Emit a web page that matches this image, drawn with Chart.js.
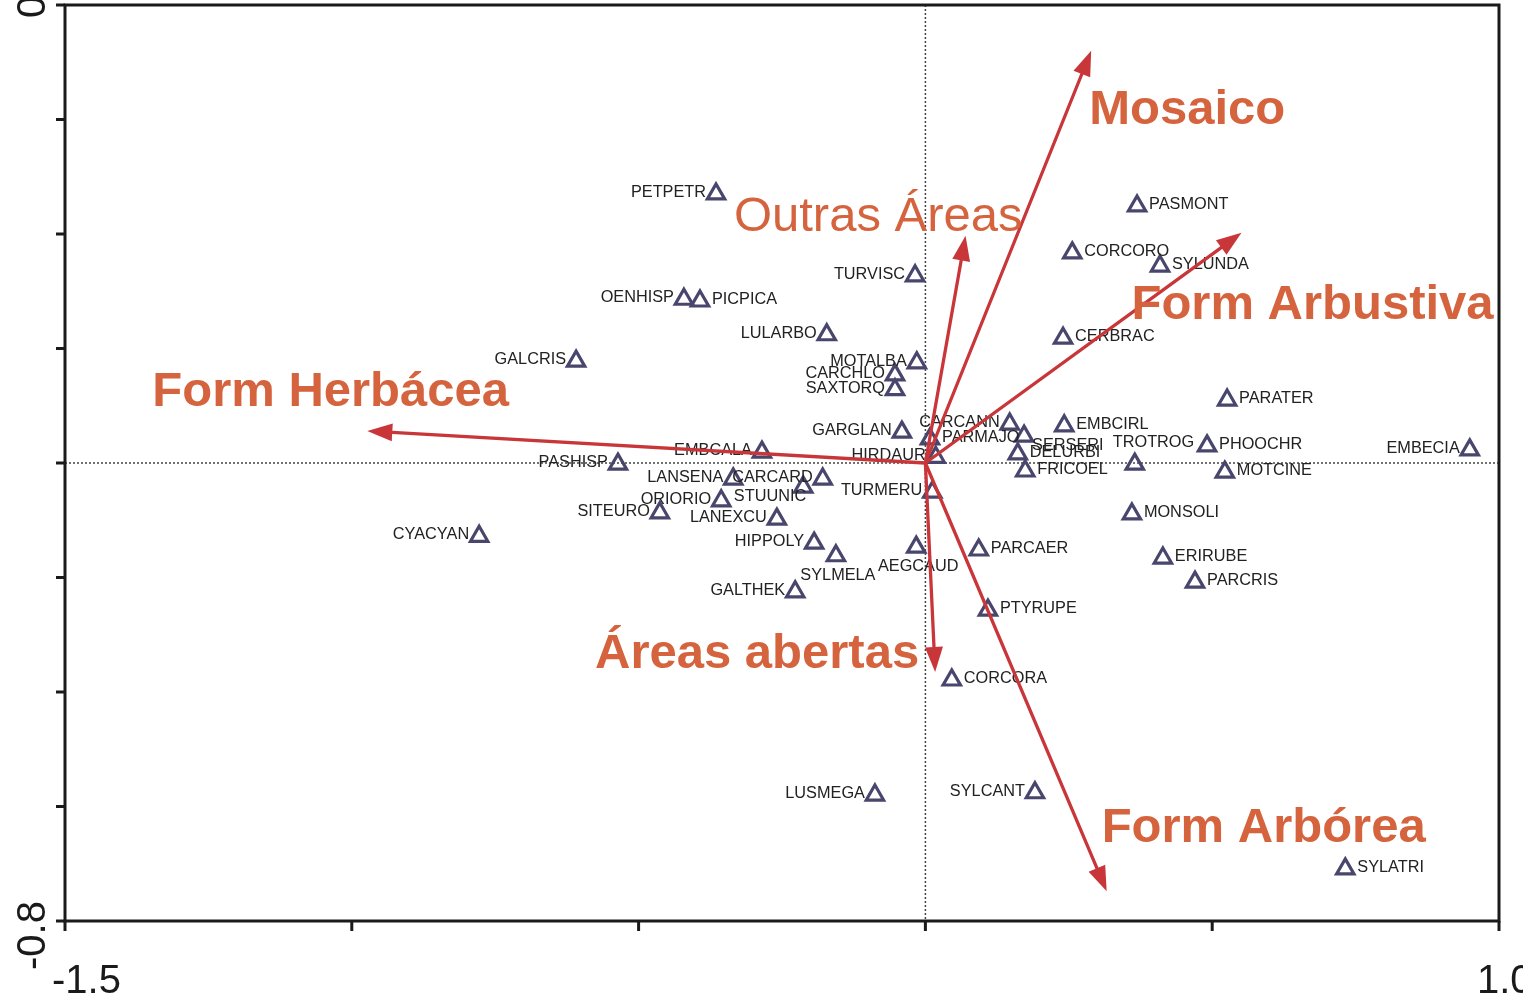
<!DOCTYPE html>
<html><head><meta charset="utf-8">
<script src="https://cdn.jsdelivr.net/npm/chart.js@4.4.0/dist/chart.umd.min.js"></script>
<style>html,body{margin:0;padding:0;background:#fff;}#wrap{width:1523px;height:1000px;position:relative;}</style>
</head><body><div id="wrap"><canvas id="c"></canvas></div>
<script>
// ---- data ----
const speciesNames = ['PETPETR','PASMONT','CORCORO','SYLUNDA','TURVISC','OENHISP','PICPICA','LULARBO','CERBRAC','GALCRIS',
  'MOTALBA','CARCHLO','SAXTORQ','PARATER','CARCANN','EMBCIRL','GARGLAN','SERSERI','PARMAJO','PHOOCHR',
  'EMBECIA','EMBCALA','DELURBI','HIRDAUR','TROTROG','PASHISP','FRICOEL','MOTCINE','CARCARD','LANSENA',
  'STUUNIC','TURMERU','ORIORIO','SITEURO','MONSOLI','LANEXCU','CYACYAN','HIPPOLY','AEGCAUD','PARCAER',
  'SYLMELA','ERIRUBE','PARCRIS','GALTHEK','PTYRUPE','CORCORA','LUSMEGA','SYLCANT','SYLATRI'];
const speciesX = [-0.365,0.369,0.256,0.409,-0.018,-0.421,-0.393,-0.172,0.240,-0.609,
  -0.015,-0.053,-0.053,0.526,0.147,0.242,-0.041,0.172,0.008,0.491,
  0.949,-0.285,0.161,0.018,0.365,-0.536,0.174,0.522,-0.179,-0.335,
  -0.213,0.012,-0.356,-0.463,0.360,-0.259,-0.778,-0.194,-0.016,0.093,
  -0.156,0.414,0.470,-0.227,0.109,0.046,-0.088,0.191,0.732];
const speciesY = [0.470,0.449,0.367,0.344,0.327,0.286,0.283,0.224,0.218,0.178,
  0.175,0.154,0.128,0.110,0.068,0.065,0.054,0.047,0.042,0.030,
  0.023,0.019,0.016,0.010,-0.002,-0.002,-0.014,-0.016,-0.028,-0.028,
  -0.042,-0.051,-0.066,-0.087,-0.089,-0.098,-0.128,-0.140,-0.147,-0.152,
  -0.162,-0.166,-0.208,-0.225,-0.257,-0.379,-0.580,-0.576,-0.709];
// label placement relative to marker: l=left, r=right, b=below, a=above, bl=below-left, br=below-right
const labelSide = ['l','r','r','r','l','l','r','l','r','l',
  'l','l','l','r','l','r','l','br','r','r',
  'l','l','r','l','a','l','r','r','l','l',
  'bl','l','l','l','r','l','l','l','b','r',
  'b','r','r','l','r','r','l','l','r'];

const envNames = ['Mosaico','Outras Áreas','Form Arbustiva','Form Herbácea','Áreas abertas','Form Arbórea'];
const envX = [0.289, 0.070, 0.551, -0.973, 0.017, 0.316];
const envY = [0.720, 0.397, 0.402, 0.056, -0.365, -0.748];

const xTickValues = [-1.5,-1.0,-0.5,0,0.5,1.0];
const xTickLabels = ['-1.5','','','','','1.0'];
const yTickValues = [-0.8,-0.6,-0.4,-0.2,0,0.2,0.4,0.6,0.8];
const yTickLabels = ['-0.8','','','','','','','','0.8'];

// ---- styles ----
const FONT = '"Liberation Sans", Arial, sans-serif';
const envColor = '#c9363a';
const envTextColor = '#d5633d';
const envLabelStyle = {
  'Mosaico':       {dx:-2,   dy:73,  align:'left',  bold:true},
  'Outras Áreas':  {dx:57,   dy:-5,  align:'right', bold:false},
  'Form Arbustiva':{dx:-110, dy:86,  align:'left',  bold:true},
  'Form Herbácea': {dx:-215, dy:-25, align:'left',  bold:true},
  'Áreas abertas': {dx:-16,  dy:-4,  align:'right', bold:true},
  'Form Arbórea':  {dx:-5,   dy:-49, align:'left',  bold:true}
};

const points = speciesX.map((x,i)=>({x:x, y:speciesY[i]}));

const biplotPlugin = {
  id:'biplot',
  beforeDatasetsDraw(chart){
    const ctx = chart.ctx, xs = chart.scales.x, ys = chart.scales.y, a = chart.chartArea;
    const x0 = xs.getPixelForValue(0), y0 = ys.getPixelForValue(0);
    ctx.save();
    ctx.strokeStyle = '#444'; ctx.lineWidth = 1.5; ctx.setLineDash([2,2]);
    ctx.beginPath(); ctx.moveTo(x0, a.top); ctx.lineTo(x0, a.bottom); ctx.stroke();
    ctx.beginPath(); ctx.moveTo(a.left, y0); ctx.lineTo(a.right, y0); ctx.stroke();
    ctx.restore();
  },
  afterDatasetsDraw(chart){
    const ctx = chart.ctx, xs = chart.scales.x, ys = chart.scales.y, a = chart.chartArea;
    ctx.save();
    // species labels
    ctx.fillStyle = '#222';
    ctx.font = '16.3px ' + FONT;
    ctx.textBaseline = 'alphabetic';
    speciesNames.forEach((n,i)=>{
      const px = xs.getPixelForValue(speciesX[i]), py = ys.getPixelForValue(speciesY[i]);
      const s = labelSide[i];
      if (s==='l'){ ctx.textAlign='right'; ctx.fillText(n, px-10, py+3); }
      else if (s==='r'){ ctx.textAlign='left'; ctx.fillText(n, px+12, py+3); }
      else if (s==='b'){ ctx.textAlign='center'; ctx.fillText(n, px+2, py+24); }
      else if (s==='a'){ ctx.textAlign='left'; ctx.fillText(n, px-22, py-17); }
      else if (s==='bl'){ ctx.textAlign='right'; ctx.fillText(n, px+3, py+14); }
      else if (s==='br'){ ctx.textAlign='left'; ctx.fillText(n, px+8, py+14); }
    });
    // arrows
    const x0 = xs.getPixelForValue(0), y0 = ys.getPixelForValue(0);
    envNames.forEach((n,i)=>{
      const tx = xs.getPixelForValue(envX[i]), ty = ys.getPixelForValue(envY[i]);
      const ang = Math.atan2(ty-y0, tx-x0);
      const hl = 25, hw = 9;
      const bx = tx - Math.cos(ang)*hl, by = ty - Math.sin(ang)*hl;
      ctx.strokeStyle = envColor; ctx.lineWidth = 3.3; ctx.lineCap='round';
      ctx.beginPath(); ctx.moveTo(x0,y0); ctx.lineTo(bx,by); ctx.stroke();
      ctx.fillStyle = envColor;
      ctx.beginPath();
      ctx.moveTo(tx,ty);
      ctx.lineTo(bx + Math.sin(ang)*hw, by - Math.cos(ang)*hw);
      ctx.lineTo(bx - Math.sin(ang)*hw, by + Math.cos(ang)*hw);
      ctx.closePath(); ctx.fill();
    });
    envNames.forEach((n,i)=>{
      const tx = xs.getPixelForValue(envX[i]), ty = ys.getPixelForValue(envY[i]);
      const st = envLabelStyle[n];
      ctx.fillStyle = envTextColor;
      ctx.font = (st.bold?'bold ':'') + '49px ' + FONT;
      ctx.textAlign = st.align; ctx.textBaseline='alphabetic';
      ctx.fillText(n, tx+st.dx, ty+st.dy);
    });
    // frame
    ctx.strokeStyle = '#1a1a1a'; ctx.lineWidth = 3; ctx.lineCap='butt';
    ctx.strokeRect(a.left, a.top, a.right-a.left, a.bottom-a.top);
    // ticks
    ctx.beginPath();
    xTickValues.forEach(v=>{ const p = xs.getPixelForValue(v); ctx.moveTo(p, a.bottom); ctx.lineTo(p, a.bottom+10); });
    yTickValues.forEach(v=>{ const p = ys.getPixelForValue(v); ctx.moveTo(a.left, p); ctx.lineTo(a.left-9, p); });
    ctx.stroke();
    // tick labels
    ctx.fillStyle = '#1a1a1a';
    ctx.font = '40px ' + FONT;
    ctx.textBaseline = 'alphabetic';
    xTickValues.forEach((v,i)=>{
      const t = xTickLabels[i]; if(!t) return;
      const p = xs.getPixelForValue(v);
      ctx.textAlign='left';
      ctx.fillText(t, i===0 ? p-13 : p-22, a.bottom+72);
    });
    yTickValues.forEach((v,i)=>{
      const t = yTickLabels[i]; if(!t) return;
      const p = ys.getPixelForValue(v);
      ctx.save();
      ctx.translate(45, i===0 ? p+49 : p+13);
      ctx.rotate(-Math.PI/2);
      ctx.textAlign='left';
      ctx.fillText(t, 0, 0);
      ctx.restore();
    });
    ctx.restore();
  }
};

new Chart(document.getElementById('c'), {
  type:'scatter',
  data:{ datasets:[{
    data: points,
    pointStyle:'triangle',
    radius: 10,
    borderWidth: 3.2,
    borderColor:'#48466c',
    backgroundColor:'rgba(0,0,0,0)'
  }]},
  options:{
    responsive:true, maintainAspectRatio:false, animation:false,
    layout:{ autoPadding:false, padding:{left:65, top:5, right:24, bottom:79} },
    scales:{
      x:{ type:'linear', min:-1.5, max:1.0, display:false },
      y:{ type:'linear', min:-0.8, max:0.8, display:false }
    },
    plugins:{ legend:{display:false}, tooltip:{enabled:false} }
  },
  plugins:[biplotPlugin]
});
</script>
</body></html>
